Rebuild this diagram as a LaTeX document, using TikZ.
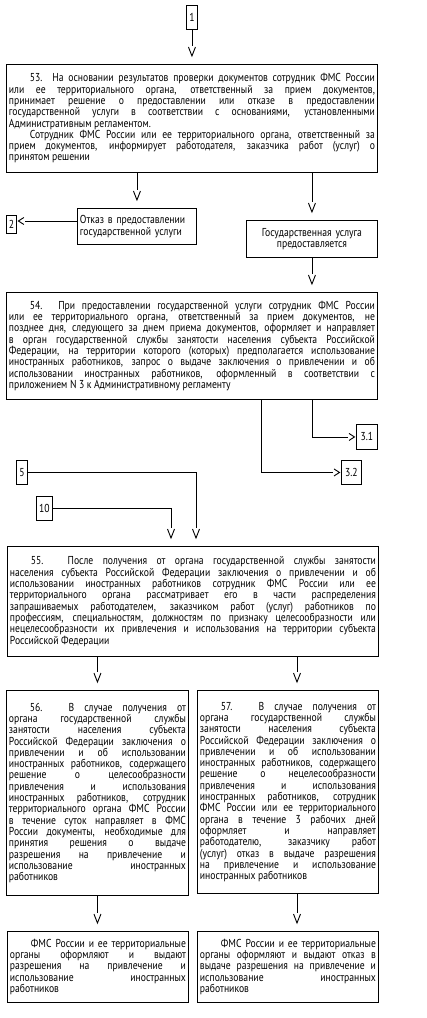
\documentclass[tikz,border=0pt]{standalone}
\usepackage{fontspec}
\setmainfont[FakeStretch=0.84]{PT Sans}
\pgfdeclarearrow{
  name=Vd,
  setup code={
    \pgfarrowssettipend{0pt}
    \pgfarrowssetbackend{-9pt}
    \pgfarrowssetvisualbackend{-9pt}
    \pgfarrowssetlineend{-10pt}
    \pgfarrowshullpoint{0pt}{0pt}
    \pgfarrowshullpoint{-9pt}{3.5pt}
    \pgfarrowshullpoint{-9pt}{-3.5pt}
  },
  drawing code={
    \pgfpathmoveto{\pgfqpoint{-9pt}{3.5pt}}
    \pgfpathlineto{\pgfqpoint{0pt}{0pt}}
    \pgfpathlineto{\pgfqpoint{-9pt}{-3.5pt}}
    \pgfusepathqstroke
  }
}
\pgfdeclarearrow{
  name=Vh,
  setup code={
    \pgfarrowssettipend{0pt}
    \pgfarrowssetbackend{-5.5pt}
    \pgfarrowssetvisualbackend{-5.5pt}
    \pgfarrowssetlineend{-7pt}
    \pgfarrowshullpoint{0pt}{0pt}
    \pgfarrowshullpoint{-5.5pt}{3.5pt}
    \pgfarrowshullpoint{-5.5pt}{-3.5pt}
  },
  drawing code={
    \pgfpathmoveto{\pgfqpoint{-5.5pt}{3.5pt}}
    \pgfpathlineto{\pgfqpoint{0pt}{0pt}}
    \pgfpathlineto{\pgfqpoint{-5.5pt}{-3.5pt}}
    \pgfusepathqstroke
  }
}
\newcommand\fs{\fontsize{11.5}{11.3}\selectfont}
\newcommand\bx[7]{%
  \pgfmathsetmacro\bxw{#5-#3}\pgfmathsetmacro\bxh{#6-#4}\pgfmathsetmacro\bxt{#5-#3-5}%
  \node[#1, minimum width=\bxw pt, minimum height=\bxh pt, text width=\bxt pt] (#2) at (#3,#4) {#7};}
\newcommand\tg[6]{%
  \pgfmathsetmacro\bxw{#4-#2}\pgfmathsetmacro\bxh{#5-#3}%
  \node[tagbox, minimum width=\bxw pt, minimum height=\bxh pt] (#1) at (#2,#3) {#6};}
\newcommand\ind{\hspace*{21pt}}
\begin{document}
\begin{tikzpicture}[x=1pt,y=-1pt,
  txtbox/.style={draw, line width=0.9pt, anchor=north west, inner xsep=2.5pt, inner ysep=0pt,
    font=\fs, align=justify,
    execute at begin node={\parindent=0pt\tolerance=10000\hbadness=10000\emergencystretch=20pt\hyphenpenalty=10000\exhyphenpenalty=10000}},
  lbox/.style={txtbox, align=left},
  cbox/.style={txtbox, align=center},
  tagbox/.style={draw, line width=0.9pt, anchor=north west, inner sep=0pt, font=\fs},
  va/.style={line width=0.9pt, -Vd, shorten >=8pt},
  ha/.style={line width=0.9pt, -Vh, shorten >=1.5pt}]
\useasboundingbox (0,0) rectangle (427,1018);

\tg{B1}{186}{5}{197}{29}{1}
\bx{txtbox}{B53}{6}{64}{377}{172}{\ind 53. На основании результатов проверки документов сотрудник ФМС России\linebreak
или ее территориального органа, ответственный за прием документов,\linebreak
принимает решение о предоставлении или отказе в предоставлении\linebreak
государственной услуги в соответствии с основаниями, установленными\linebreak
Административным регламентом.\par
\ind Сотрудник ФМС России или ее территориального органа, ответственный за\linebreak
прием документов, информирует работодателя, заказчика работ (услуг) о\linebreak
принятом решении}
\bx{lbox}{Otk}{77}{208}{196}{244}{Отказ в предоставлении\\государственной услуги}
\tg{B2}{6}{215}{16}{233}{2}
\bx{cbox}{Gos}{246}{220}{377}{257}{Государственная услуга\\предоставляется}
\bx{txtbox}{B54}{6}{292}{377}{399}{\ind 54. При предоставлении государственной услуги сотрудник ФМС России\linebreak
или ее территориального органа, ответственный за прием документов, не\linebreak
позднее дня, следующего за днем приема документов, оформляет и направляет\linebreak
в орган государственной службы занятости населения субъекта Российской\linebreak
Федерации, на территории которого (которых) предполагается использование\linebreak
иностранных работников, запрос о выдаче заключения о привлечении и об\linebreak
использовании иностранных работников, оформленный в соответствии с\linebreak
приложением N 3 к Административному регламенту}
\tg{B31}{356}{424}{377}{449}{3.1}
\tg{B32}{341}{460}{361}{484}{3.2}
\tg{B5}{16}{460}{27}{484}{5}
\tg{B10}{36}{496}{52}{520}{10}
\bx{txtbox}{B55}{7}{546}{378}{656}{\ind 55. После получения от органа государственной службы занятости\linebreak
населения субъекта Российской Федерации заключения о привлечении и об\linebreak
использовании иностранных работников сотрудник ФМС России или ее\linebreak
территориального органа рассматривает его в части распределения\linebreak
запрашиваемых работодателем, заказчиком работ (услуг) работников по\linebreak
профессиям, специальностям, должностям по признаку целесообразности или\linebreak
нецелесообразности их привлечения и использования на территории субъекта\linebreak
Российской Федерации}
\bx{txtbox}{B56}{6}{690}{188}{895}{\ind 56. В случае получения от\linebreak
органа государственной службы\linebreak
занятости населения субъекта\linebreak
Российской Федерации заключения о\linebreak
привлечении и об использовании\linebreak
иностранных работников, содержащего\linebreak
решение о целесообразности\linebreak
привлечения и использования\linebreak
иностранных работников, сотрудник\linebreak
территориального органа ФМС России\linebreak
в течение суток направляет в ФМС\linebreak
России документы, необходимые для\linebreak
принятия решения о выдаче\linebreak
разрешения на привлечение и\linebreak
использование иностранных\linebreak
работников}
\bx{txtbox}{B57}{197}{690}{378}{893}{\ind 57. В случае получения от\linebreak
органа государственной службы\linebreak
занятости населения субъекта\linebreak
Российской Федерации заключения о\linebreak
привлечении и об использовании\linebreak
иностранных работников, содержащего\linebreak
решение о нецелесообразности\linebreak
привлечения и использования\linebreak
иностранных работников, сотрудник\linebreak
ФМС России или ее территориального\linebreak
органа в течение 3 рабочих дней\linebreak
оформляет и направляет\linebreak
работодателю, заказчику работ\linebreak
(услуг) отказ в выдаче разрешения\linebreak
на привлечение и использование\linebreak
иностранных работников}
\bx{txtbox}{BL}{7}{931}{188}{1002}{\ind ФМС России и ее территориальные\linebreak
органы оформляют и выдают\linebreak
разрешения на привлечение и\linebreak
использование иностранных\linebreak
работников}
\bx{txtbox}{BR}{197}{931}{378}{1002}{\ind ФМС России и ее территориальные\linebreak
органы оформляют и выдают отказ в\linebreak
выдаче разрешения на привлечение и\linebreak
использование иностранных\linebreak
работников}

\coordinate (xa) at (261,0);
\coordinate (xb) at (196,0);
\coordinate (xc) at (171,0);
\coordinate (xd) at (297,0);
\coordinate (ya) at (0,221);

\draw[va] (B1.south) -- (B1.south |- B53.north);
\draw[va] (B53.south -| Otk.north) -- (Otk.north);
\draw[ha] (Otk.west |- ya) -- (B2.east |- ya);
\draw[va] (B53.south -| Gos.north) -- (Gos.north);
\draw[va] (Gos.south) -- (Gos.south |- B54.north);
\draw[ha] (B54.south -| Gos.south) |- (B31.west);
\draw[ha] (B54.south -| xa) |- (B32.west);
\draw[va] (B5.east) -| (B55.north -| xb);
\draw[va] (B10.east) -| (B55.north -| xc);
\draw[va] (B55.south -| B56.north) -- (B56.north);
\draw[va] (B55.south -| xd) -- (B57.north -| xd);
\draw[va] (B56.south) -- (B56.south |- BL.north);
\draw[va] (B57.south -| xd) -- (BR.north -| xd);
\end{tikzpicture}
\end{document}
